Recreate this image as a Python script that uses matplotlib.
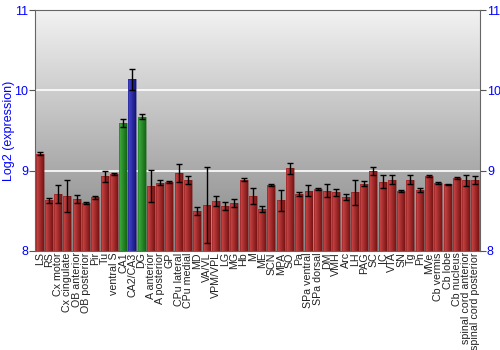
import numpy as np
import matplotlib
matplotlib.use("Agg")
import matplotlib.pyplot as plt
from matplotlib.colors import LinearSegmentedColormap

# regions and log2 expression
regions = ["LS", "RS", "Cx motor", "Cx cingulate", "OB anterior", "OB posterior",
           "Pir", "Tu", "ventral S", "CA1", "CA2/CA3", "DG", "A anterior",
           "A posterior", "GP", "CPu lateral", "CPu medial", "MD", "VA/VL",
           "VPM/VPL", "LG", "MG", "Hb", "M", "ME", "SCN", "MPA", "SO", "Pa",
           "SPa ventral", "SPa dorsal", "DM", "VMH", "Arc", "LH", "PAG", "SC",
           "IC", "VTA", "SN", "Tg", "Pn", "MVe", "Cb vermis", "Cb lobe",
           "Cb nucleus", "spinal cord anterior", "spinal cord posterior"]
values = [9.21, 8.63, 8.71, 8.69, 8.65, 8.60, 8.67, 8.93, 8.96, 9.59, 10.14, 9.67,
          8.81, 8.85, 8.86, 8.97, 8.88, 8.50, 8.57, 8.62, 8.56, 8.60, 8.89, 8.68,
          8.52, 8.82, 8.63, 9.03, 8.71, 8.75, 8.77, 8.75, 8.73, 8.67, 8.73, 8.84,
          9.00, 8.86, 8.89, 8.75, 8.89, 8.76, 8.93, 8.85, 8.83, 8.91, 8.88, 8.88]
errors = [0.02, 0.03, 0.11, 0.20, 0.05, 0.01, 0.02, 0.07, 0.01, 0.05, 0.13, 0.03,
          0.20, 0.03, 0.01, 0.11, 0.05, 0.05, 0.47, 0.06, 0.05, 0.05, 0.02, 0.10,
          0.04, 0.01, 0.13, 0.07, 0.03, 0.07, 0.01, 0.08, 0.04, 0.04, 0.16, 0.03,
          0.05, 0.08, 0.05, 0.01, 0.06, 0.02, 0.01, 0.01, 0.01, 0.01, 0.07, 0.05]
groups = ["o"] * 9 + ["g", "b", "g"] + ["o"] * 36

palette = {
    "o": ("#d04848", "#7a1414"),
    "g": ("#40b040", "#146614"),
    "b": ("#4848d0", "#14147a"),
}


def main():
    plt.rcParams['font.family'] = ['Liberation Sans', 'DejaVu Sans']
    fig = plt.figure(figsize=(5, 3.5), dpi=100)
    ax = fig.add_axes([0.07, 0.283, 0.89, 0.688])

    # grey vertical gradient in the plot area
    grad = np.linspace(0, 1, 256).reshape(-1, 1)
    bg = LinearSegmentedColormap.from_list("bg", ["#f2f2f2", "#858585"])
    ax.imshow(grad, cmap=bg, aspect="auto", extent=[0, 1, 0, 1],
              transform=ax.transAxes, zorder=0)

    for yv in [9, 10]:
        ax.axhline(yv, color="white", lw=1.2, zorder=1)

    x = np.arange(len(regions))
    bars = ax.bar(x, np.array(values) - 8, bottom=8, width=0.86,
                  color="none", edgecolor="none", zorder=2)
    hgrad = np.linspace(0, 1, 64).reshape(1, -1)
    for b, g in zip(bars, groups):
        light, dark = palette[g]
        cm = LinearSegmentedColormap.from_list("c", [light, dark])
        x0, w = b.get_x(), b.get_width()
        im = ax.imshow(hgrad, cmap=cm, aspect="auto",
                       extent=[x0, x0 + w, 8, 8 + b.get_height()], zorder=2)
        im.set_clip_path(b)
        ax.add_patch(plt.Rectangle((x0, 8), w, b.get_height(), fill=False,
                                   edgecolor=dark, lw=0.5, alpha=0.6, zorder=3))

    ax.errorbar(x, values, yerr=errors, fmt="none", ecolor="black",
                elinewidth=1, capsize=2, capthick=1, zorder=4)

    ax.set_xlim(-0.5, len(regions) - 0.5)
    ax.set_ylim(8, 11)
    ax.set_yticks([8, 9, 10, 11])
    ax.set_xticks(x)
    ax.set_xticklabels(regions, rotation=90, fontsize=7.7, color="#222222")
    ax.tick_params(axis="x", length=0, pad=1)
    ax.tick_params(axis="y", colors="#555555", labelcolor="blue", labelsize=9,
                   left=True, right=True, labelleft=True, labelright=True,
                   length=4, pad=1)
    ax.set_ylabel("Log2 (expression)", color="blue", fontsize=9)
    ax.yaxis.set_label_coords(-0.045, 0.5)
    for s in ax.spines.values():
        s.set_color("#666666")

    fig.savefig("out.png", dpi=100)


if __name__ == "__main__":
    main()
